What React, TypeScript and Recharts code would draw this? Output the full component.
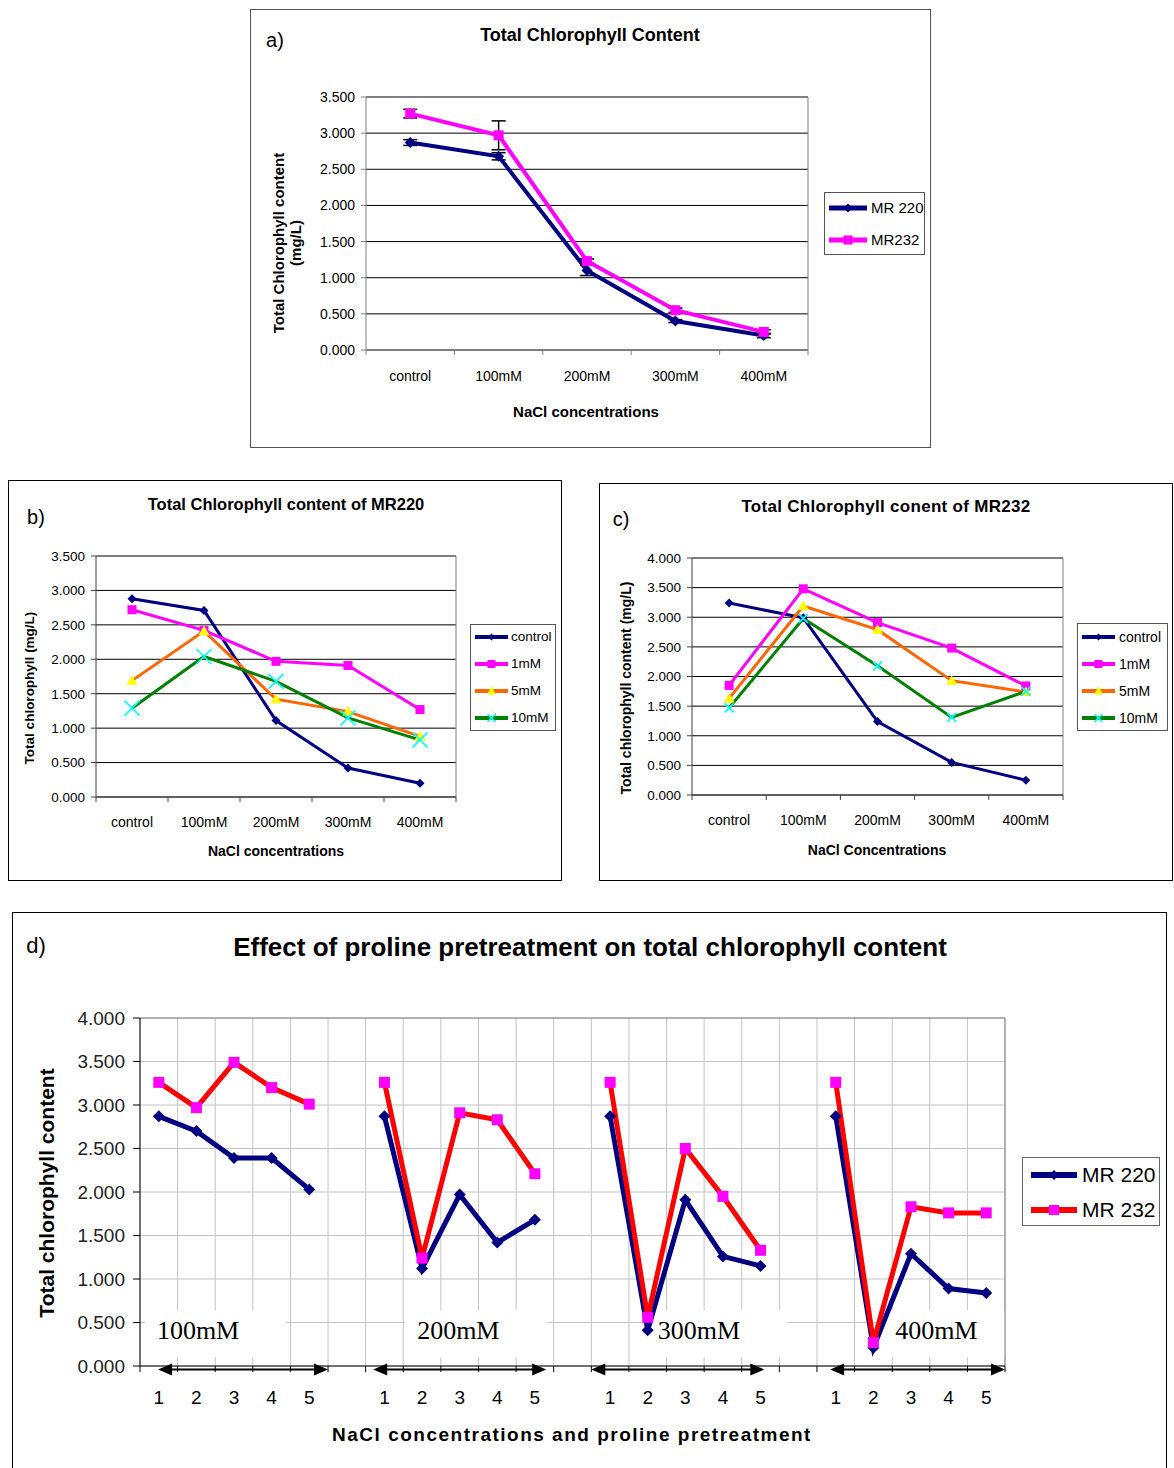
import React from 'react';
import { LineChart, Line, XAxis, YAxis, CartesianGrid, ReferenceLine, ReferenceArea, ErrorBar } from 'recharts';

// ---------- data ----------
const concentrations = ['control', '100mM', '200mM', '300mM', '400mM'];
const yTicks35 = [0, 0.5, 1, 1.5, 2, 2.5, 3, 3.5];
const yTicks40 = [0, 0.5, 1, 1.5, 2, 2.5, 3, 3.5, 4];

// a) both varieties under NaCl
const mr220 = [2.87, 2.68, 1.1, 0.4, 0.2];
const mr232 = [3.27, 2.97, 1.23, 0.55, 0.25];
const mr220Err = [0.04, 0.05, 0.07, 0.02, 0.03];
const mr232Err = [0.06, 0.2, 0.03, 0.03, 0.03];

// b) MR220 with proline pretreatment
const bControl = [2.88, 2.71, 1.11, 0.42, 0.2];
const b1mM = [2.72, 2.42, 1.97, 1.91, 1.27];
const b5mM = [1.69, 2.41, 1.42, 1.24, 0.88];
const b10mM = [1.29, 2.04, 1.68, 1.15, 0.83];

// c) MR232 with proline pretreatment
const cControl = [3.24, 2.99, 1.24, 0.55, 0.25];
const c1mM = [1.85, 3.48, 2.91, 2.48, 1.84];
const c5mM = [1.63, 3.19, 2.79, 1.93, 1.74];
const c10mM = [1.47, 2.98, 2.18, 1.31, 1.75];

// d) proline pretreatment, grouped by NaCl level
const dGroups = ['100mM', '200mM', '300mM', '400mM'];
const dSteps = ['1', '2', '3', '4', '5'];
const dMR220 = [
  [2.87, 2.7, 2.39, 2.39, 2.03],
  [2.87, 1.12, 1.97, 1.42, 1.68],
  [2.87, 0.41, 1.91, 1.26, 1.15],
  [2.87, 0.21, 1.29, 0.89, 0.84],
];
const dMR232 = [
  [3.26, 2.97, 3.49, 3.2, 3.01],
  [3.26, 1.24, 2.91, 2.83, 2.21],
  [3.26, 0.56, 2.5, 1.95, 1.33],
  [3.26, 0.27, 1.83, 1.76, 1.76],
];
// annotation spans in slot units (white label boxes and arrows under each group)
const dBoxSpans = [[0.13, 3.9], [7.05, 10.82], [13.45, 17.2], [19.76, 23]];
const dArrowSpans = [[0.48, 5.0], [6.2, 10.8], [12.0, 16.6], [18.35, 23.0]];

// ---------- tables ----------
const aRows = concentrations.map((c, i) => ({
  conc: c, mr220: mr220[i], mr232: mr232[i], mr220Err: mr220Err[i], mr232Err: mr232Err[i],
}));
const bRows = concentrations.map((c, i) => ({ conc: c, control: bControl[i], p1: b1mM[i], p5: b5mM[i], p10: b10mM[i] }));
const cRows = concentrations.map((c, i) => ({ conc: c, control: cControl[i], p1: c1mM[i], p5: c5mM[i], p10: c10mM[i] }));

const dRows: any[] = [];
dGroups.forEach((g, gi) => {
  dSteps.forEach((s, si) => dRows.push({ slot: dRows.length, step: s, mr220: dMR220[gi][si], mr232: dMR232[gi][si] }));
  if (gi < dGroups.length - 1) dRows.push({ slot: dRows.length, step: '', mr220: null, mr232: null });
});

// ---------- styling ----------
const NAVY = '#000080';
const MAGENTA = '#ff00ff';
const ORANGE = '#ff6600';
const GREEN = '#008000';
const YELLOW = '#ffff00';
const CYAN = '#00ffff';
const RED = '#ff0000';
const SANS = "'Liberation Sans', Arial, sans-serif";
const SERIF = "'Liberation Serif', 'Times New Roman', serif";

type MarkerKind = 'diamond' | 'square' | 'triangle' | 'cross';
interface Series {
  key: string; name: string; color: string; width: number;
  marker: MarkerKind; markerColor: string; markerSize: number; legendMarkerSize: number;
}

const seriesA: Series[] = [
  { key: 'mr220', name: 'MR 220', color: NAVY, width: 4, marker: 'diamond', markerColor: NAVY, markerSize: 11, legendMarkerSize: 9 },
  { key: 'mr232', name: 'MR232', color: MAGENTA, width: 4, marker: 'square', markerColor: MAGENTA, markerSize: 10, legendMarkerSize: 9 },
];
const prolineSeries = (crossSize: number): Series[] => [
  { key: 'control', name: 'control', color: NAVY, width: 3, marker: 'diamond', markerColor: NAVY, markerSize: 9, legendMarkerSize: 7 },
  { key: 'p1', name: '1mM', color: MAGENTA, width: 3, marker: 'square', markerColor: MAGENTA, markerSize: 9, legendMarkerSize: 8 },
  { key: 'p5', name: '5mM', color: ORANGE, width: 3, marker: 'triangle', markerColor: YELLOW, markerSize: 11, legendMarkerSize: 9 },
  { key: 'p10', name: '10mM', color: GREEN, width: 3, marker: 'cross', markerColor: CYAN, markerSize: crossSize, legendMarkerSize: 8 },
];
const seriesD: Series[] = [
  { key: 'mr220', name: 'MR 220', color: NAVY, width: 5, marker: 'diamond', markerColor: NAVY, markerSize: 12, legendMarkerSize: 10 },
  { key: 'mr232', name: 'MR 232', color: RED, width: 5, marker: 'square', markerColor: MAGENTA, markerSize: 11, legendMarkerSize: 10 },
];

const fmt3 = (v: number) => v.toFixed(3);

const Marker = ({ kind, cx, cy, size, fill }: { kind: MarkerKind; cx: number; cy: number; size: number; fill: string }) => {
  const h = size / 2;
  if (kind === 'diamond') return <polygon points={`${cx},${cy - h} ${cx + h},${cy} ${cx},${cy + h} ${cx - h},${cy}`} fill={fill} />;
  if (kind === 'square') return <rect x={cx - h} y={cy - h} width={size} height={size} fill={fill} />;
  if (kind === 'triangle') return <polygon points={`${cx},${cy - h} ${cx + h},${cy + h * 0.75} ${cx - h},${cy + h * 0.75}`} fill={fill} />;
  return (
    <g stroke={fill} strokeWidth={1.6}>
      <line x1={cx - h} y1={cy - h} x2={cx + h} y2={cy + h} />
      <line x1={cx - h} y1={cy + h} x2={cx + h} y2={cy - h} />
    </g>
  );
};

const dotOf = (s: Series) => (p: any) => (
  <g key={`dot-${s.key}-${p.index}`}>
    {typeof p.cy !== 'number' || isNaN(p.cy) ? null : (
      <Marker kind={s.marker} cx={p.cx} cy={p.cy} size={s.markerSize} fill={s.markerColor} />
    )}
  </g>
);

// category label at the band centre, tick mark at the band boundaries
const BandTick = (props: any) => {
  const { x, y, payload, index, visibleTicksCount, lblDy, lblSize, mark, markColor, half, labelOf } = props;
  const h = payload && payload.offset ? payload.offset : half;
  const last = index === visibleTicksCount - 1;
  const label = labelOf ? labelOf(payload.value) : payload.value;
  return (
    <g>
      <line x1={x - h} x2={x - h} y1={y} y2={y + mark} stroke={markColor} />
      {last && <line x1={x + h} x2={x + h} y1={y} y2={y + mark} stroke={markColor} />}
      <text x={x} y={y + lblDy} textAnchor="middle" fontSize={lblSize} fill="#000">{label}</text>
    </g>
  );
};

const ArrowShape = (props: any) => {
  const { x1, y1, x2 } = props;
  const y = y1 + 3.5;
  return (
    <g>
      <line x1={x1 + 8} x2={x2 - 8} y1={y} y2={y} stroke="#000" strokeWidth={2} />
      <polygon points={`${x1},${y} ${x1 + 14},${y - 6} ${x1 + 14},${y + 6}`} fill="#000" />
      <polygon points={`${x2},${y} ${x2 - 14},${y - 6} ${x2 - 14},${y + 6}`} fill="#000" />
    </g>
  );
};

const BoxLabel = ({ viewBox, text }: any) =>
  viewBox ? (
    <text x={viewBox.x + 12} y={viewBox.y + viewBox.height / 2 - 4} dy="0.34em" fontFamily={SERIF} fontSize={26} fill="#000">
      {text}
    </text>
  ) : null;

const Txt = ({ x, y, size, bold, rotate, spacing, children }: any) => (
  <div
    style={{
      position: 'absolute', left: x, top: y, whiteSpace: 'nowrap', textAlign: 'center',
      transform: `translate(-50%, -50%)${rotate ? ' rotate(-90deg)' : ''}`,
      fontSize: size, fontWeight: bold ? 700 : 400, letterSpacing: spacing, lineHeight: 1.15, color: '#000',
    }}
  >
    {children}
  </div>
);

const LegendBox = ({ series, x, y, w, h, rowTop, gap, lineX, lineLen, textX, size, border }: any) => (
  <div style={{ position: 'absolute', left: x, top: y, width: w, height: h, border: `1px solid ${border}`, boxSizing: 'border-box', background: '#fff' }}>
    {series.map((s: Series, i: number) => (
      <div key={s.key} style={{ position: 'absolute', left: 0, top: rowTop + i * gap - 10, height: 20, width: '100%' }}>
        <svg width={lineLen} height={20} style={{ position: 'absolute', left: lineX, top: 0 }}>
          <line x1={0} y1={10} x2={lineLen} y2={10} stroke={s.color} strokeWidth={s.width + 1} />
          <Marker kind={s.marker} cx={lineLen / 2} cy={10} size={s.legendMarkerSize} fill={s.markerColor} />
        </svg>
        <div style={{ position: 'absolute', left: textX, top: 0, height: 20, lineHeight: '20px', fontSize: size, whiteSpace: 'nowrap' }}>
          {s.name}
        </div>
      </div>
    ))}
  </div>
);

// ---------- panels a, b, c ----------
const ConcPanel = ({ cfg }: { cfg: any }) => {
  const plotLeft = cfg.margin.left + cfg.yWidth;
  const halfBand = (cfg.width - plotLeft - cfg.margin.right) / concentrations.length / 2;
  return (
    <div style={{ position: 'absolute', left: cfg.left, top: cfg.top, width: cfg.width, height: cfg.height }}>
      <div style={{ position: 'absolute', inset: 0, border: `1px solid ${cfg.border}` }} />
      <div style={{ position: 'absolute', left: 0, top: 0 }}>
        <LineChart width={cfg.width} height={cfg.height} data={cfg.rows} margin={cfg.margin}>
          <CartesianGrid vertical={false} stroke="#000" />
          <XAxis
            dataKey="conc" scale="band" height={30} interval={0} tickLine={false} tickSize={0} tickMargin={0} stroke={cfg.axisColor}
            tick={(p: any) => <BandTick {...p} lblDy={cfg.labelDy} lblSize={cfg.xTickSize} mark={5} markColor={cfg.axisColor} half={halfBand} />}
          />
          <YAxis
            domain={[0, cfg.yTicks[cfg.yTicks.length - 1]]} ticks={cfg.yTicks} interval={0} width={cfg.yWidth}
            stroke={cfg.axisColor} tickSize={5} tickMargin={6} tickFormatter={fmt3}
            tick={{ fill: '#000', fontSize: cfg.yTickSize }} allowDataOverflow
          />
          <ReferenceLine x={concentrations[concentrations.length - 1]} position="end" stroke="#808080" />
          {cfg.series.map((s: Series) => (
            <Line
              key={s.key} type="linear" dataKey={s.key} name={s.name} stroke={s.color} strokeWidth={s.width}
              dot={dotOf(s)} activeDot={false} isAnimationActive={false}
            >
              {cfg.errors && cfg.errors[s.key] ? (
                <ErrorBar dataKey={cfg.errors[s.key]} width={7} strokeWidth={1.5} stroke="#000" direction="y" />
              ) : null}
            </Line>
          ))}
        </LineChart>
      </div>
      <Txt x={cfg.letter.x} y={cfg.letter.y} size={20}>{cfg.letter.text}</Txt>
      <Txt x={cfg.title.x} y={cfg.title.y} size={cfg.title.size} spacing={cfg.title.spacing} bold>{cfg.title.text}</Txt>
      <Txt x={cfg.xTitle.x} y={cfg.xTitle.y} size={cfg.xTitle.size} bold>{cfg.xTitle.text}</Txt>
      <Txt x={cfg.yTitle.x} y={cfg.yTitle.y} size={cfg.yTitle.size} bold rotate>
        {cfg.yTitle.lines.map((l: string) => <div key={l}>{l}</div>)}
      </Txt>
      <LegendBox series={cfg.series} {...cfg.legend} />
    </div>
  );
};

const panelA = {
  left: 250, top: 9, width: 681, height: 439, border: '#555', axisColor: '#808080',
  margin: { top: 88, right: 123, bottom: 68, left: 56 }, yWidth: 60,
  yTicks: yTicks35, yTickSize: 14, xTickSize: 14, labelDy: 31,
  rows: aRows, series: seriesA, errors: { mr220: 'mr220Err', mr232: 'mr232Err' },
  letter: { text: 'a)', x: 25, y: 31 },
  title: { text: 'Total Chlorophyll Content', x: 340, y: 26, size: 18 },
  xTitle: { text: 'NaCl concentrations', x: 336, y: 403, size: 15 },
  yTitle: { lines: ['Total Chlorophyll content', '(mg/L)'], x: 37, y: 234, size: 15 },
  legend: { x: 574, y: 183, w: 101, h: 63, rowTop: 15, gap: 32, lineX: 4, lineLen: 38, textX: 46, size: 15, border: '#555' },
};

const panelB = {
  left: 8, top: 480, width: 554, height: 401, border: '#000', axisColor: '#404040',
  margin: { top: 76, right: 106, bottom: 54, left: 38 }, yWidth: 50,
  yTicks: yTicks35, yTickSize: 13.5, xTickSize: 14, labelDy: 30,
  rows: bRows, series: prolineSeries(15),
  letter: { text: 'b)', x: 28, y: 37 },
  title: { text: 'Total Chlorophyll content of MR220', x: 278, y: 24, size: 16.5 },
  xTitle: { text: 'NaCl concentrations', x: 268, y: 371, size: 14 },
  yTitle: { lines: ['Total chlorophyll (mg/L)'], x: 22, y: 208, size: 13.5 },
  legend: { x: 462, y: 144, w: 86, h: 107, rowTop: 12, gap: 27, lineX: 4, lineLen: 33, textX: 40, size: 13.5, border: '#555' },
};

const panelC = {
  left: 599, top: 483, width: 574, height: 398, border: '#000', axisColor: '#404040',
  margin: { top: 75, right: 110, bottom: 56, left: 43 }, yWidth: 50,
  yTicks: yTicks40, yTickSize: 13.5, xTickSize: 14, labelDy: 30,
  rows: cRows, series: prolineSeries(9),
  letter: { text: 'c)', x: 22, y: 36 },
  title: { text: 'Total Chlorophyll conent of MR232', x: 287, y: 24, size: 17, spacing: 0.3 },
  xTitle: { text: 'NaCl Concentrations', x: 278, y: 367, size: 14 },
  yTitle: { lines: ['Total chlorophyll content (mg/L)'], x: 27, y: 205, size: 14 },
  legend: { x: 478, y: 140, w: 91, h: 108, rowTop: 13, gap: 27, lineX: 4, lineLen: 33, textX: 41, size: 14, border: '#555' },
};

// ---------- panel d ----------
const PanelD = () => {
  const slots = dRows.length;
  const gridTicks = Array.from({ length: slots + 1 }, (_, i) => i);
  const margin = { top: 106, right: 162, bottom: 62, left: 58 };
  const halfBand = (1155 - margin.left - 70 - margin.right) / slots / 2;
  const stepOf = (v: number) => (dRows[v] ? dRows[v].step : '');
  return (
    <div style={{ position: 'absolute', left: 12, top: 912, width: 1155, height: 556 }}>
      <div style={{ position: 'absolute', inset: 0, border: '1px solid #000', borderBottom: 'none' }} />
      <div style={{ position: 'absolute', left: 0, top: 0 }}>
        <LineChart width={1155} height={556} data={dRows} margin={margin}>
          <XAxis
            dataKey="slot" type="category" scale="band" height={40} interval={0} tickLine={false} tickSize={0} tickMargin={0} stroke="#000"
            tick={(p: any) => <BandTick {...p} lblDy={38} lblSize={19} mark={6} markColor="#000" half={halfBand} labelOf={stepOf} />}
          />
          <XAxis
            xAxisId="grid" dataKey="slot" type="number" domain={[0, slots]} ticks={gridTicks} interval={0}
            height={0} hide allowDataOverflow
          />
          <YAxis
            domain={[0, 4]} ticks={yTicks40} interval={0} width={70} stroke="#000" tickSize={7} tickMargin={8}
            tickFormatter={fmt3} tick={{ fill: '#222', fontSize: 19 }} allowDataOverflow
          />
          <CartesianGrid xAxisId="grid" stroke="#c4c4c4" />
          <ReferenceLine xAxisId="grid" x={slots} stroke="#808080" />
          <ReferenceLine xAxisId="grid" y={4} stroke="#808080" />
          {dBoxSpans.map(([a, b], i) => (
            <ReferenceArea
              key={`box-${i}`} xAxisId="grid" x1={a} x2={b} y1={0.1} y2={0.64}
              fill="#fff" fillOpacity={1} stroke="none"
              label={(lp: any) => <BoxLabel {...lp} text={dGroups[i]} />}
            />
          ))}
          {seriesD.map((s) => (
            <Line
              key={s.key} type="linear" dataKey={s.key} name={s.name} stroke={s.color} strokeWidth={s.width}
              dot={dotOf(s)} activeDot={false} isAnimationActive={false}
            />
          ))}
          {dArrowSpans.map(([a, b], i) => (
            <ReferenceLine key={`arr-${i}`} xAxisId="grid" segment={[{ x: a, y: 0 }, { x: b, y: 0 }]} stroke="#000" shape={ArrowShape} />
          ))}
        </LineChart>
      </div>
      <Txt x={24} y={34} size={22}>d)</Txt>
      <Txt x={578} y={36} size={26} bold>Effect of proline pretreatment on total chlorophyll content</Txt>
      <Txt x={560} y={523} size={19} spacing={1.5} bold>NaCl concentrations and proline pretreatment</Txt>
      <Txt x={35} y={281} size={21} bold rotate>Total chlorophyll content</Txt>
      <LegendBox series={seriesD} x={1010} y={245} w={138} h={69} rowTop={17} gap={35} lineX={8} lineLen={46} textX={59} size={21} border="#666" />
    </div>
  );
};

const App = () => (
  <div style={{ position: 'absolute', left: 0, top: 0, width: 1174, height: 1468, overflow: 'hidden', background: '#fff', fontFamily: SANS }}>
    <ConcPanel cfg={panelA} />
    <ConcPanel cfg={panelB} />
    <ConcPanel cfg={panelC} />
    <PanelD />
  </div>
);

export default App;
